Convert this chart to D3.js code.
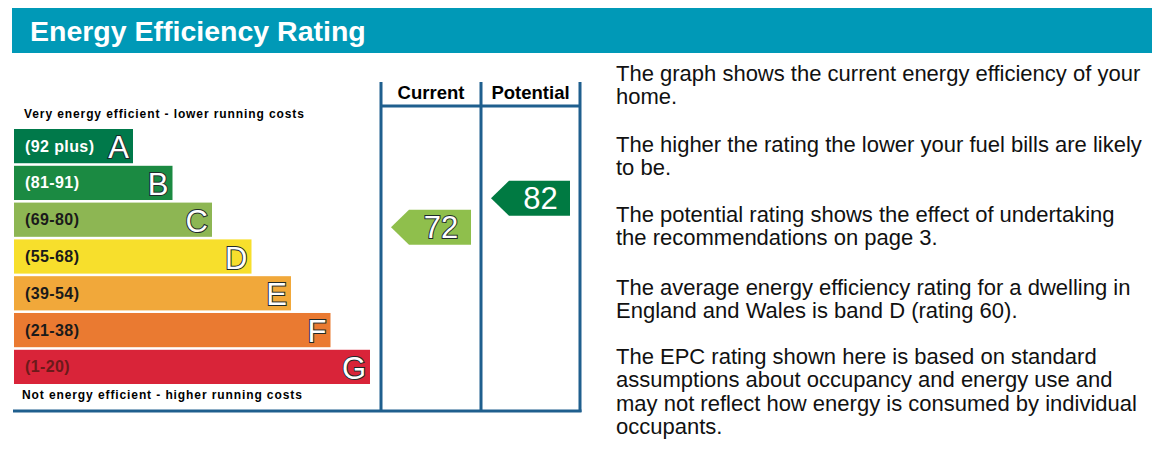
<!DOCTYPE html>
<html lang="en">
<head>
<meta charset="UTF-8" />
<title>Energy Efficiency Rating</title>
<style>
  body { margin: 0; background: #fff; }
  svg { display: block; font-family: "Liberation Sans", Arial, sans-serif; }
</style>
</head>
<body>
<script src="https://cdn.jsdelivr.net/npm/d3@7"></script>
<script>

// band letters, rating ranges and colours
var bands = ["A", "B", "C", "D", "E", "F", "G"];
var ranges = ["(92 plus)", "(81-91)", "(69-80)", "(55-68)", "(39-54)", "(21-38)", "(1-20)"];
var bandColors = ["#00794a", "#1b8a42", "#8db653", "#f7df2c", "#f1a83a", "#ea7a31", "#d92439"];
var labelColors = ["#ffffff", "#ffffff", "#1a1a1a", "#1a1a1a", "#1a1a1a", "#1a1a1a", "#6b1a1a"];

// the two ratings
var ratings = [
  { name: "Current", value: 72, band: "C", color: "#8fbf4c" },
  { name: "Potential", value: 82, band: "B", color: "#007a42" }
];

// the notes on the right
var notes = [
  ["The graph shows the current energy efficiency of your", "home."],
  ["The higher the rating the lower your fuel bills are likely", "to be."],
  ["The potential rating shows the effect of undertaking", "the recommendations on page 3."],
  ["The average energy efficiency rating for a dwelling in", "England and Wales is band D (rating 60)."],
  ["The EPC rating shown here is based on standard", "assumptions about occupancy and energy use and",
   "may not reflect how energy is consumed by individual", "occupants."]
];

var w = 1162, h = 458;
var lineColor = "#1f5f8e";

var svg = d3.select("body").append("svg")
  .attr("width", w)
  .attr("height", h);

// header bar
svg.append("rect")
  .attr("x", 12).attr("y", 8)
  .attr("width", 1140).attr("height", 45)
  .attr("fill", "#0099b7");

svg.append("text")
  .attr("x", 30).attr("y", 41)
  .attr("fill", "#fff")
  .attr("font-size", 28.5)
  .attr("font-weight", "bold")
  .text("Energy Efficiency Rating");

// scales
var yScale = d3.scaleBand()
  .domain(bands)
  .range([129, 384])
  .paddingInner(0.07);

var xEnd = d3.scaleLinear()
  .domain([0, bands.length - 1])
  .range([133, 370]);

var ratingY = d3.scaleLinear()
  .domain([1, 100])
  .range([433, 146]);

var left = 14;

// bars
var bar = svg.selectAll(".band")
  .data(bands)
  .enter().append("g")
  .attr("class", "band");

bar.append("rect")
  .attr("x", left)
  .attr("y", function(d) { return yScale(d); })
  .attr("width", function(d, i) { return xEnd(i) - left; })
  .attr("height", yScale.bandwidth())
  .attr("fill", function(d, i) { return bandColors[i]; });

bar.append("text")
  .attr("x", 25)
  .attr("y", function(d) { return yScale(d) + yScale.bandwidth() / 2 + 5.5; })
  .attr("font-size", 16)
  .attr("font-weight", "bold")
  .attr("letter-spacing", 0.4)
  .attr("fill", function(d, i) { return labelColors[i]; })
  .text(function(d, i) { return ranges[i]; });

bar.append("text")
  .attr("x", function(d, i) { return xEnd(i) - 4; })
  .attr("y", function(d) { return yScale(d) + yScale.bandwidth() - 5; })
  .attr("text-anchor", "end")
  .attr("font-size", 31)
  .attr("fill", "#fff")
  .attr("stroke", "#1e2a2a")
  .attr("stroke-width", 2)
  .attr("paint-order", "stroke")
  .text(function(d) { return d; });

// top and bottom captions
svg.append("text")
  .attr("x", 24).attr("y", 118)
  .attr("font-size", 12)
  .attr("font-weight", "bold")
  .attr("letter-spacing", 0.9)
  .text("Very energy efficient - lower running costs");

svg.append("text")
  .attr("x", 22).attr("y", 399)
  .attr("font-size", 12)
  .attr("font-weight", "bold")
  .attr("letter-spacing", 0.9)
  .text("Not energy efficient - higher running costs");

// columns
var colX = [381, 481, 580];
var frame = svg.append("g")
  .attr("stroke", lineColor)
  .attr("stroke-width", 3)
  .attr("fill", "none");

colX.forEach(function(x) {
  frame.append("line").attr("x1", x).attr("x2", x).attr("y1", 82).attr("y2", 412);
});
frame.append("line").attr("x1", colX[0]).attr("x2", colX[2]).attr("y1", 106).attr("y2", 106);
frame.append("line").attr("x1", 13).attr("x2", colX[2] + 1.5).attr("y1", 411).attr("y2", 411);

ratings.forEach(function(r, i) {
  svg.append("text")
    .attr("x", (colX[i] + colX[i + 1]) / 2)
    .attr("y", 99)
    .attr("text-anchor", "middle")
    .attr("font-size", 18.5)
    .attr("font-weight", "bold")
    .text(r.name);

  // arrow pointing left
  var x0 = colX[i] + 10, x1 = colX[i + 1] - 10, cy = ratingY(r.value), hh = 17.5;
  var pts = [[x0, cy], [x0 + 18, cy - hh], [x1, cy - hh], [x1, cy + hh], [x0 + 18, cy + hh]];
  svg.append("path")
    .attr("d", d3.line()(pts) + "Z")
    .attr("fill", r.color);

  svg.append("text")
    .attr("x", x0 + 20 + (x1 - x0 - 20) / 2)
    .attr("y", cy + 11)
    .attr("text-anchor", "middle")
    .attr("font-size", 31)
    .attr("fill", "#fff")
    .attr("stroke", i === 0 ? "#1e2a2a" : "none")
    .attr("stroke-width", 2)
    .attr("paint-order", "stroke")
    .text(r.value);
});

// notes on the right
var noteY = [81, 152, 222, 295, 364];
notes.forEach(function(lines, i) {
  var t = svg.append("text")
    .attr("x", 616)
    .attr("y", noteY[i])
    .attr("font-size", 22)
    .attr("fill", "#111");
  lines.forEach(function(s, j) {
    t.append("tspan")
      .attr("x", 616)
      .attr("dy", j === 0 ? 0 : 23.3)
      .text(s);
  });
});

</script>
</body>
</html>
